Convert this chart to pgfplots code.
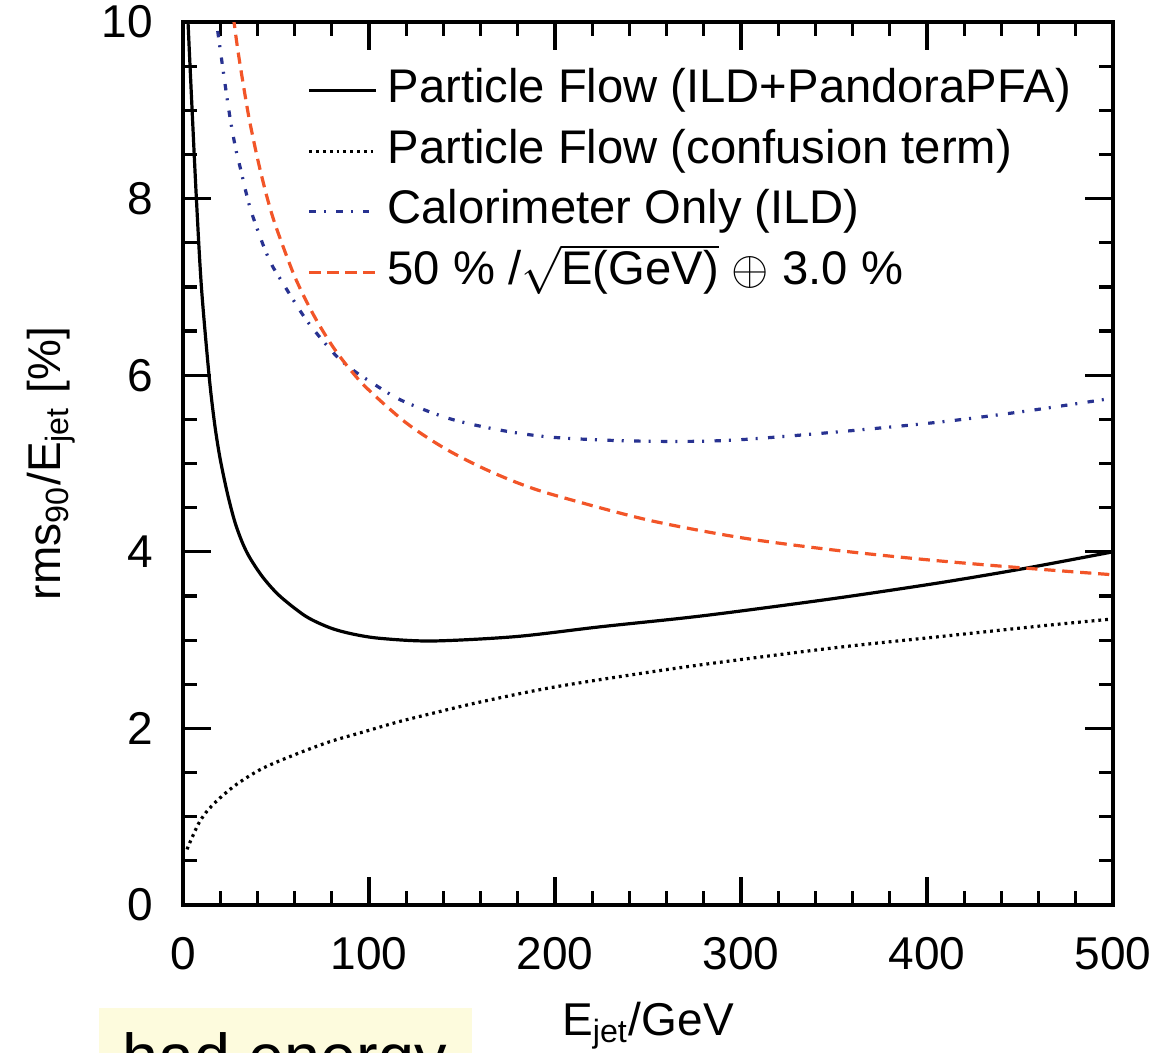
\documentclass[border=0pt]{standalone}
\usepackage{fontspec}
\setmainfont{Liberation Sans}
\usepackage{pgfplots}
\pgfplotsset{compat=1.18}
\definecolor{calblue}{RGB}{40,50,145}
\definecolor{stochorange}{RGB}{242,85,40}
\definecolor{slideyellow}{RGB}{253,251,221}
\newcommand{\fs}{\fontsize{11.5}{13.8}\selectfont}
\newcommand{\lfs}{\fontsize{11.8}{14}\selectfont}

\begin{document}
\begin{tikzpicture}
\useasboundingbox (-45.75pt,-36.75pt) rectangle (248.25pt,226.25pt);
\clip (-45.75pt,-36.75pt) rectangle (248.25pt,226.25pt);
\fill[slideyellow] (-21pt,-25.75pt) rectangle (72.25pt,-60pt);
\node[anchor=base west, inner sep=0pt, font=\fontsize{16.2}{19}\selectfont] at (-15.25pt,-43.5pt) {had energy};
\begin{axis}[
  at={(0,0)}, anchor=south west,
  scale only axis, width=232.5pt, height=220.75pt,
  xmin=0, xmax=500, ymin=0, ymax=10,
  xtick={0,100,...,500}, ytick={0,2,...,10},
  minor x tick num=4, minor y tick num=3,
  tick align=inside,
  major tick length=7pt, minor tick length=3.5pt,
  every tick/.style={black, line width=0.8pt},
  axis line style={line width=1.2pt},
  /pgf/number format/assume math mode=true,
  tick label style={font=\fs},
  xticklabel style={yshift=-4.5pt},
  yticklabel style={xshift=-4pt},
  xlabel={E\textsubscript{jet}/GeV},
  ylabel={rms\textsubscript{90}/E\textsubscript{jet} [\%]},
  every axis x label/.style={at={([yshift=-32.5pt]axis description cs:0.5,0)}, anchor=base, font=\fs},
  every axis y label/.style={at={([xshift=-30.5pt]axis description cs:0,0.5)}, rotate=90, anchor=base, font=\fs},
  legend style={at={([xshift=31pt,yshift=-11pt]axis description cs:0,1)}, anchor=north west,
    draw=none, fill=none, inner sep=0pt, row sep=3.125pt, column sep=2.4pt, font=\lfs,
    nodes={inner sep=0pt, text height=9pt, text depth=3pt}},
  legend cell align=left,
  legend image code/.code={\draw[#1] (0pt,0pt) -- (16.75pt,0pt);},
]
\addplot[black, line width=0.8pt, smooth] coordinates {
(2.0,10.4) (2.7,10.0) (4.9,9.0) (7.2,8.0) (9.9,7.0) (14,6.0) (17,5.45) (20,5.05) (24,4.65)
(28,4.33) (32,4.10) (36,3.93) (43,3.71) (52,3.50) (66,3.27) (79,3.14) (91,3.07) (106,3.02)
(134,2.99) (179,3.04) (224,3.15) (269,3.25) (300,3.33) (353,3.48) (407,3.65) (452,3.81) (500,4.00)
};
\addlegendentry{Particle Flow (ILD+PandoraPFA)}
\addplot[black, line width=0.8pt, dash pattern=on 0.7pt off 1pt, smooth] coordinates {
(2.2,0.63) (2.9,0.67) (6.5,0.84) (9.1,0.95) (13.6,1.08) (20.8,1.23) (29.7,1.38) (43,1.55)
(61,1.71) (79,1.85) (97,1.96) (115,2.07) (132,2.16) (160,2.30) (200,2.47) (258,2.66)
(300,2.78) (353,2.92) (407,3.04) (461,3.16) (500,3.24)
};
\addlegendentry{Particle Flow (confusion term)}
\addplot[calblue, line width=0.8pt, dash pattern=on 1.6pt off 2pt on 0.5pt off 2.6pt, smooth] coordinates {
(17,10.2) (18,10.0) (24.3,9.05) (28,8.6) (31,8.33) (36,7.9) (43,7.48) (47.5,7.26) (52,7.10)
(66.5,6.62) (81,6.25) (90,6.08) (99,5.95) (117,5.72) (143,5.51) (170,5.38) (197,5.30)
(233,5.26) (269,5.25) (300,5.27) (353,5.36) (407,5.47) (452,5.59) (500,5.74)
};
\addlegendentry{Calorimeter Only (ILD)}
\addplot[stochorange, line width=0.8pt, dash pattern=on 2.8pt off 1.7pt, smooth] coordinates {
(26,10.26) (27.5,9.99) (30,9.61) (35,8.97) (40,8.46) (45,8.03) (50,7.68) (60,7.12) (70,6.69)
(80,6.34) (90,6.06) (100,5.83) (120,5.46) (140,5.18) (160,4.96) (180,4.78) (200,4.64)
(250,4.36) (300,4.16) (350,4.02) (400,3.91) (450,3.82) (500,3.74)
};
\addlegendentry{50 \% /$\sqrt{\mbox{E(GeV)}}$ $\oplus$ 3.0 \%}
\end{axis}
\end{tikzpicture}
\end{document}
